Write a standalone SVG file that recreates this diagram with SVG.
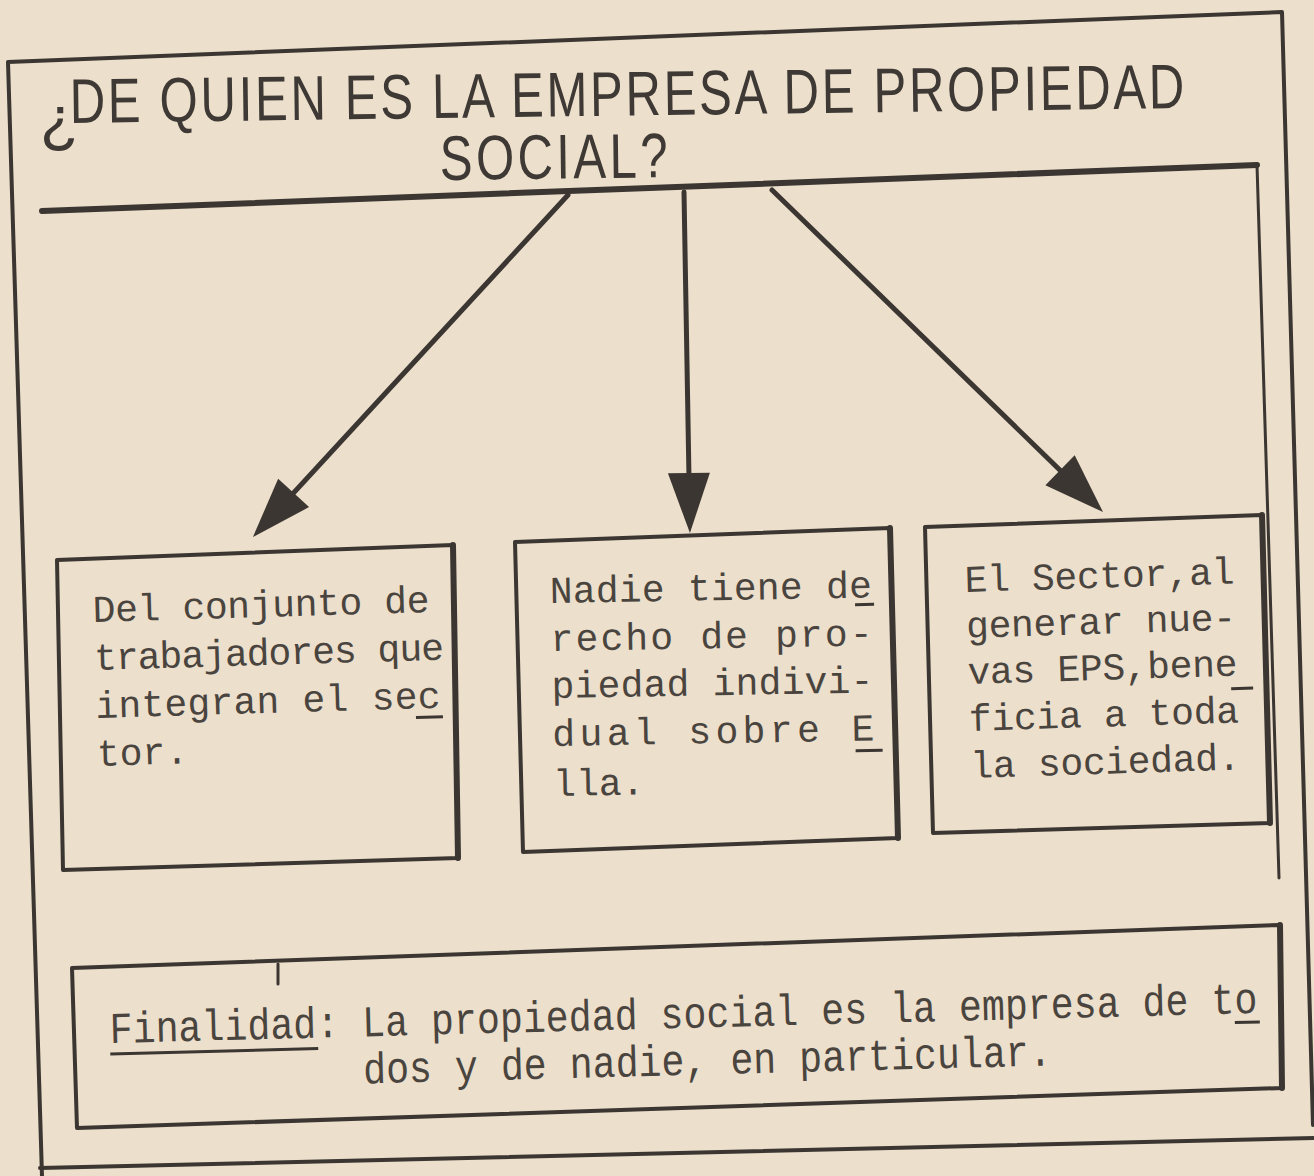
<svg xmlns="http://www.w3.org/2000/svg" width="1314" height="1176" viewBox="0 0 1314 1176">
  <defs>
    <style>
      .ink { stroke: #3b3631; fill: none; stroke-linecap: round; stroke-linejoin: round; }
      .frame { stroke-width: 4; }
      .box { stroke-width: 4; }
      .edge { stroke-width: 6; }
      .arrow { stroke-width: 5; }
      .title { font-family: "Liberation Sans", "Arial", sans-serif; font-size: 63px; fill: #3e3934; }
      .type { font-family: "Liberation Mono", "Courier New", monospace; font-size: 38px; fill: #4a443e; }
      .type2 { font-family: "Liberation Mono", "Courier New", monospace; font-size: 44px; fill: #4a443e; }
      .ul { stroke: #3b3631; stroke-width: 3; }
    </style>
    <marker id="head" markerUnits="userSpaceOnUse" markerWidth="62" markerHeight="46" viewBox="0 0 62 46" refX="42" refY="23" orient="auto">
      <path d="M2,2 L62,23 L2,44 Z" fill="#3b3631"/>
    </marker>
  </defs>

  <rect x="0" y="0" width="1314" height="1176" fill="#ecdfcc"/>

  <g id="frame">
    <path class="ink frame" d="M42,1176 L8,62 L1282,12 L1313,1125"/>
    <path class="ink" stroke-width="6" d="M42,211 L1257,165"/>
    <path class="ink" stroke-width="3" d="M1257,165 L1279,878"/>
    <path class="ink" stroke-width="4" d="M40,1168 L1314,1138"/>
  </g>

  <g id="title">
    <text class="title" x="40" y="140" font-size="50">¿</text>
    <text class="title" x="89.7" y="123" textLength="1429" lengthAdjust="spacing" transform="rotate(-0.77 70 123) scale(0.78 1)">DE QUIEN ES LA EMPRESA DE PROPIEDAD</text>
    <text class="title" x="564.1" y="180" textLength="292" lengthAdjust="spacing" transform="rotate(-0.7 440 180) scale(0.78 1)">SOCIAL?</text>
  </g>

  <g id="connectors">
    <line class="ink arrow" x1="568" y1="195" x2="266.5" y2="522.3" marker-end="url(#head)"/>
    <line class="ink arrow" x1="684" y1="192" x2="689.6" y2="513" marker-end="url(#head)"/>
    <line class="ink arrow" x1="772" y1="190" x2="1088.7" y2="498.1" marker-end="url(#head)"/>
  </g>

  <g id="node-conjunto">
    <path class="ink box" d="M57,560 L453,545 L458,858 L63,870 Z"/>
    <path class="ink edge" d="M453,545 L458,858"/>
    <g transform="rotate(-1.7 93 622)">
      <text class="type" x="93" y="622" textLength="337" lengthAdjust="spacing">Del conjunto de</text>
      <text class="type" x="93" y="670" textLength="350" lengthAdjust="spacing">trabajadores que</text>
      <text class="type" x="93" y="718" textLength="345" lengthAdjust="spacing">integran el sec</text>
      <text class="type" x="93" y="766">tor.</text>
      <line class="ul" x1="413" y1="727" x2="440" y2="727"/>
    </g>
  </g>

  <g id="node-nadie">
    <path class="ink box" d="M515,542 L890,528 L898,838 L523,852 Z"/>
    <path class="ink edge" d="M890,528 L898,838"/>
    <g transform="rotate(-1 550 603)">
      <text class="type" x="550" y="603" textLength="322" lengthAdjust="spacing">Nadie tiene de</text>
      <text class="type" x="550" y="651" textLength="322" lengthAdjust="spacing">recho de  pro-</text>
      <text class="type" x="550" y="698" textLength="322" lengthAdjust="spacing">piedad indivi-</text>
      <text class="type" x="550" y="746" textLength="322" lengthAdjust="spacing">dual  sobre  E</text>
      <text class="type" x="550" y="796">lla.</text>
      <line class="ul" x1="855" y1="610" x2="874" y2="610"/>
      <line class="ul" x1="853" y1="756" x2="880" y2="756"/>
    </g>
  </g>

  <g id="node-sector">
    <path class="ink box" d="M925,527 L1262,515 L1270,823 L933,833 Z"/>
    <path class="ink edge" d="M1262,515 L1270,823"/>
    <g transform="rotate(-1.8 965 592)">
      <text class="type" x="965" y="592" textLength="270" lengthAdjust="spacing">El Sector,al</text>
      <text class="type" x="965" y="638" textLength="270" lengthAdjust="spacing">generar nue-</text>
      <text class="type" x="965" y="684" textLength="270" lengthAdjust="spacing">vas EPS,bene</text>
      <text class="type" x="965" y="731" textLength="270" lengthAdjust="spacing">ficia a toda</text>
      <text class="type" x="965" y="778" textLength="270" lengthAdjust="spacing">la sociedad.</text>
      <line class="ul" x1="1228" y1="697" x2="1250" y2="697"/>
    </g>
  </g>

  <g id="node-finalidad">
    <path class="ink box" d="M72,968 L1280,925 L1282,1088 L77,1128 Z"/>
    <path class="ink edge" d="M1280,925 L1282,1088"/>
    <line class="ink" stroke-width="3" x1="278" y1="964" x2="278" y2="984"/>
    <g transform="rotate(-1.5 110 1043)">
      <g transform="translate(110 0) scale(0.87 1) translate(-110 0)">
        <text class="type2" x="110" y="1043">Finalidad: La propiedad social es la empresa de to</text>
        <text class="type2" x="400" y="1090">dos y de nadie, en particular.</text>
      </g>
      <line class="ul" x1="110" y1="1054" x2="318" y2="1054"/>
      <line class="ul" x1="1235" y1="1052" x2="1260" y2="1052"/>
    </g>
  </g>
</svg>
